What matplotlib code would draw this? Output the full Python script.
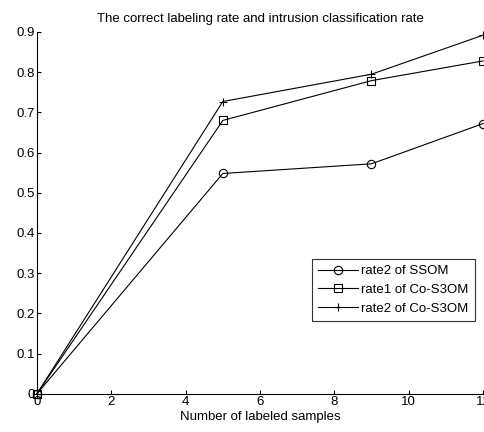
import matplotlib as mpl
import matplotlib.pyplot as plt

mpl.rcParams.update({
    "font.family": ["Liberation Sans", "DejaVu Sans"],
    "font.size": 9.5,
    "xtick.direction": "in", "ytick.direction": "in",
    "xtick.major.size": 3, "ytick.major.size": 3,
    "axes.linewidth": 0.8,
})

x_samples = [0, 5, 9, 12]
rate2_ssom = [0.0, 0.548, 0.572, 0.672]
rate1_cos3om = [0.0, 0.680, 0.779, 0.828]
rate2_cos3om = [0.0, 0.727, 0.795, 0.892]
labels = ["rate2 of SSOM", "rate1 of Co-S3OM", "rate2 of Co-S3OM"]
markers = ["o", "s", "+"]

fig = plt.figure(figsize=(4.85, 4.32), dpi=100)
ax = fig.add_axes([37 / 485, 38.3 / 432, 446 / 485, 361.7 / 432])
for ys, mk, lab in zip([rate2_ssom, rate1_cos3om, rate2_cos3om], markers, labels):
    ax.plot(x_samples, ys, color="k", lw=0.8, marker=mk, ms=6, mfc="none",
            mec="k", mew=0.8, label=lab, clip_on=False)

ax.set_xlim(0, 12)
ax.set_ylim(0, 0.9)
ax.set_xticks(range(0, 13, 2))
ax.set_yticks([i / 10 for i in range(10)])
ax.set_yticklabels(["0"] + [f"{i / 10:.1f}" for i in range(1, 10)])
ax.spines["top"].set_visible(False)
ax.spines["right"].set_visible(False)
ax.tick_params(pad=1.5)
ax.set_xlabel("Number of labeled samples", labelpad=2)
ax.set_title("The correct labeling rate and intrusion classification rate",
             fontsize=9.5, pad=7)
leg = ax.legend(loc="upper left", bbox_to_anchor=(275 / 446, (393.7 - 259) / 361.7),
                fancybox=False, edgecolor="k", handlelength=3.0, borderpad=0.45,
                labelspacing=0.5, handletextpad=0.3, borderaxespad=0)
leg.get_frame().set_linewidth(0.8)

fig.savefig("out.png", dpi=100)
